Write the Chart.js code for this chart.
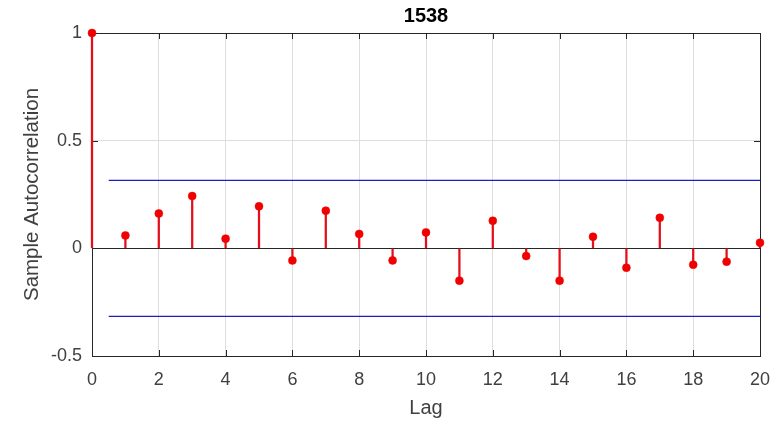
<!DOCTYPE html>
<html>
<head>
<meta charset="utf-8">
<script src="https://cdn.jsdelivr.net/npm/chart.js@4.4.1/dist/chart.umd.min.js"></script>
<style>
  html, body { margin: 0; padding: 0; background: #fff; }
  #wrap { width: 780px; height: 427px; }
</style>
</head>
<body>
<div id="wrap"><canvas id="acfChart" width="780" height="427"></canvas></div>
<script>
// sample autocorrelation
const lags = [0, 1, 2, 3, 4, 5, 6, 7, 8, 9, 10, 11, 12, 13, 14, 15, 16, 17, 18, 19, 20]
const acf = [1, 0.060, 0.162, 0.243, 0.045, 0.195, -0.056, 0.175, 0.067, -0.056, 0.074,
  -0.150, 0.128, -0.036, -0.150, 0.054, -0.090, 0.142, -0.076, -0.062, 0.026]
const boundLags = [0.5, 20]
const bound = 0.316
const xTicks = [0, 2, 4, 6, 8, 10, 12, 14, 16, 18, 20]
const yTicks = [-0.5, 0, 0.5, 1]

const FONT = '"Liberation Sans", Arial, Helvetica, sans-serif'
const AXIS = '#262626'

// matlab style box with inward ticks, drawn under the stems
const boxPlugin = {
  id: 'box',
  beforeDatasetsDraw(chart) {
    const { ctx, chartArea: a, scales } = chart
    ctx.save()
    ctx.strokeStyle = AXIS
    ctx.lineWidth = 1
    ctx.strokeRect(a.left + 0.5, a.top + 0.5, a.right - a.left, a.bottom - a.top)
    ctx.beginPath()
    xTicks.forEach(v => {
      const x = Math.round(scales.x.getPixelForValue(v)) + 0.5
      ctx.moveTo(x, a.bottom); ctx.lineTo(x, a.bottom - 6)
      ctx.moveTo(x, a.top); ctx.lineTo(x, a.top + 6)
    })
    yTicks.forEach(v => {
      const y = Math.round(scales.y.getPixelForValue(v)) + 0.5
      ctx.moveTo(a.left, y); ctx.lineTo(a.left + 6, y)
      ctx.moveTo(a.right, y); ctx.lineTo(a.right - 6, y)
    })
    ctx.stroke()
    ctx.restore()
  }
}

const chart = new Chart(document.getElementById('acfChart'), {
  type: 'line',
  data: {
    datasets: [
      {
        type: 'bar',
        data: lags.map((l, i) => ({ x: l, y: [0, acf[i]] })),
        backgroundColor: '#e3101c',
        barThickness: 1.6,
        grouped: false,
        clip: false,
        order: 3
      },
      {
        type: 'line',
        data: lags.map((l, i) => ({ x: l, y: acf[i] })),
        showLine: false,
        pointRadius: 4,
        pointBackgroundColor: '#f00000',
        pointBorderColor: '#f00000',
        pointBorderWidth: 0.5,
        clip: false,
        order: 1
      },
      {
        type: 'line',
        data: boundLags.map(l => ({ x: l, y: bound })),
        borderColor: '#1c1cc8',
        borderWidth: 1.3,
        pointRadius: 0,
        order: 2
      },
      {
        type: 'line',
        data: boundLags.map(l => ({ x: l, y: -bound })),
        borderColor: '#1c1cc8',
        borderWidth: 1.3,
        pointRadius: 0,
        order: 2
      }
    ]
  },
  options: {
    responsive: false,
    animation: false,
    events: [],
    layout: { padding: { left: 0, right: 20, top: 0, bottom: 0 } },
    plugins: {
      legend: { display: false },
      tooltip: { enabled: false },
      title: {
        display: true,
        text: '1538',
        fullSize: false,
        color: '#000',
        font: { family: FONT, size: 20, weight: 'bold' },
        padding: { top: 4, bottom: 5 }
      }
    },
    scales: {
      x: {
        type: 'linear',
        min: 0,
        max: 20,
        offset: false,
        afterBuildTicks: s => { s.ticks = xTicks.map(v => ({ value: v })) },
        afterFit: s => { s.height = 71; s.paddingLeft = 0; s.paddingRight = 0 },
        grid: { color: '#dedede', drawTicks: false, lineWidth: 1, offset: false },
        border: { display: false },
        ticks: { color: '#404040', padding: 13, font: { family: FONT, size: 18 } },
        title: {
          display: true,
          text: 'Lag',
          color: '#404040',
          font: { family: FONT, size: 20 },
          padding: { top: 0, bottom: 7 }
        }
      },
      y: {
        min: -0.5,
        max: 1,
        afterBuildTicks: s => { s.ticks = yTicks.map(v => ({ value: v })) },
        afterFit: s => { s.width = 92 },
        grid: {
          color: c => (c.tick && c.tick.value === 0 ? AXIS : '#dedede'),
          drawTicks: false,
          lineWidth: 1
        },
        border: { display: false },
        ticks: {
          color: '#404040',
          padding: 10,
          font: { family: FONT, size: 18 },
          callback: v => String(v)
        },
        title: {
          display: true,
          text: 'Sample Autocorrelation',
          color: '#404040',
          font: { family: FONT, size: 20.5 },
          padding: { top: 20, bottom: 0 }
        }
      }
    }
  },
  plugins: [boxPlugin]
})
</script>
</body>
</html>
